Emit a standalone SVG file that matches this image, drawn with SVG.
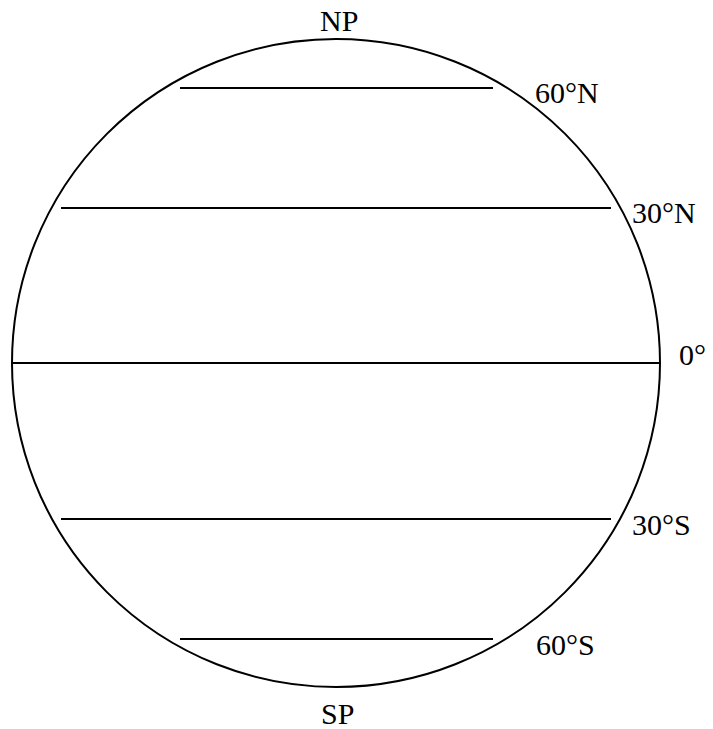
<svg xmlns="http://www.w3.org/2000/svg" width="713" height="729" viewBox="0 0 713 729">
<style>
.ln{stroke:#000;stroke-width:2;fill:none}
text{font-family:'Liberation Serif','Times New Roman','DejaVu Serif',serif;font-size:30px;fill:#000}
</style>
<rect width="713" height="729" fill="#fff"/>
<g id="globe"><circle class="ln" cx="336" cy="363" r="324"/></g>
<g id="connectors">
<line class="ln" x1="180" y1="88" x2="493" y2="88"/>
<line class="ln" x1="61" y1="208" x2="611" y2="208"/>
<line class="ln" x1="12" y1="363" x2="660" y2="363"/>
<line class="ln" x1="61" y1="519" x2="611" y2="519"/>
<line class="ln" x1="180" y1="639" x2="493" y2="639"/>
</g>
<g id="labels" font-family="'Liberation Serif', 'DejaVu Serif', serif">
<text x="320" y="31">NP</text>
<text x="535" y="103">60°N</text>
<text x="632" y="223">30°N</text>
<text x="679" y="365">0°</text>
<text x="632" y="535">30°S</text>
<text x="536" y="655">60°S</text>
<text x="321" y="724">SP</text>
</g>
</svg>
